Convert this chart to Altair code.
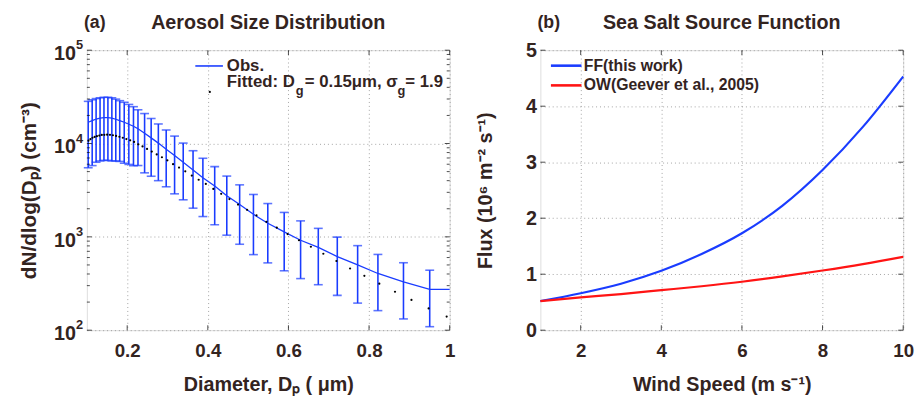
import altair as alt
import pandas as pd

FONT = "Liberation Sans"
TXT = "#33241f"
BLUE = "#1a3cff"
RED = "#ff1414"
GRID = "#8c8c8c"

# ---------------- Panel (a): aerosol size distribution ----------------
obs_d = [0.1034, 0.1132, 0.1229, 0.1327, 0.1424, 0.1522, 0.1620, 0.1717, 0.1815,
         0.1927, 0.2041, 0.2156, 0.2268, 0.2432, 0.2595, 0.2773, 0.2968, 0.3176,
         0.3390, 0.3634, 0.3878, 0.4171, 0.4471, 0.4790, 0.5132, 0.5488, 0.5895,
         0.6302, 0.6741, 0.7212, 0.7717, 0.8220, 0.8854, 0.9505]
obs_mean = [16900, 17600, 18300, 18700, 18950, 18950, 18700, 18200, 17600,
            16900, 16100, 15300, 14400, 12900, 11500, 10100, 8700, 7450,
            6300, 5200, 4300, 3500, 2760, 2220, 1745, 1400, 1130,
            920, 770, 615, 500, 405, 330, 274]
obs_std = [11400, 11800, 12000, 12200, 12350, 12350, 12200, 11700, 11170,
           10750, 10130, 9520, 8590, 8050, 7040, 6100, 5260, 4560,
           3806, 3171, 2650, 2155, 1718, 1387, 1100, 874, 697,
           563, 463, 379, 305, 243, 198, 165]
obs_line_d = obs_d + [1.0]
obs_line_v = obs_mean + [274]

fit_d = [0.1039, 0.1088, 0.1139, 0.1193, 0.1249, 0.1308, 0.1370, 0.1434, 0.1502, 0.1573,
         0.1647, 0.1725, 0.1806, 0.1891, 0.1980, 0.2074, 0.2171, 0.2274, 0.2381, 0.2493,
         0.2610, 0.2733, 0.2862, 0.2997, 0.3138, 0.3286, 0.3441, 0.3603, 0.3773, 0.3951,
         0.4137, 0.4332, 0.4536, 0.4750, 0.4974, 0.5208, 0.5454, 0.5711, 0.5980, 0.6262,
         0.6557, 0.6866, 0.7190, 0.7529, 0.7884, 0.8255, 0.8644, 0.9052, 0.9478, 0.9925]
fit_v = [10720, 11140, 11530, 11760, 11990, 12160, 12350, 12400, 12440, 12380,
         12260, 12050, 11820, 11530, 11170, 10820, 10390, 9800, 9310, 8760,
         8190, 7640, 7130, 6610, 6000, 5520, 5030, 4540, 4090, 3690,
         3260, 2890, 2540, 2220, 1950, 1700, 1450, 1255, 1070, 920,
         783, 659, 551, 458, 382, 315, 258, 211, 171, 140]

a_xticks = [0.2, 0.4, 0.6, 0.8, 1.0]
a_yticks = [100, 1000, 10000, 100000]
a_ybase = ["10", "10", "10", "10"]
a_yexp = ["2", "3", "4", "5"]
a_yminor = [200, 300, 400, 500, 600, 700, 800, 900,
            2000, 3000, 4000, 5000, 6000, 7000, 8000, 9000,
            20000, 30000, 40000, 50000, 60000, 70000, 80000, 90000]

# ---------------- Panel (b): sea salt source function ----------------
wind = [1, 2, 3, 4, 5, 6, 7, 8, 9, 10]
ff_flux = [0.52, 0.66, 0.83, 1.06, 1.36, 1.73, 2.22, 2.86, 3.63, 4.53]
ow_flux = [0.52, 0.585, 0.645, 0.715, 0.785, 0.865, 0.96, 1.065, 1.18, 1.31]
b_xticks = [2, 4, 6, 8, 10]
b_yticks = [0, 1, 2, 3, 4, 5]

W, H = 368, 284


def axis(values, title, label_expr=None, **kw):
    args = dict(values=values, title=title, grid=True, gridDash=[1, 3], gridColor=GRID,
                gridWidth=0.8, ticks=False, domain=False, labelFont=FONT, labelFontSize=19,
                labelFontWeight="bold", labelColor=TXT, labelFlush=False, labelOverlap=False,
                titleFont=FONT, titleFontSize=20, titleFontWeight="bold", titleColor=TXT)
    if label_expr:
        args["labelExpr"] = label_expr
    args.update(kw)
    return alt.Axis(**args)


def inner_ticks(values, field_scale, orient, length):
    """Inward tick marks on both sides of a panel for given tick values."""
    df = pd.DataFrame({"t": values})
    out = []
    if orient == "y":
        for xv in (length / 2, W - length / 2):
            out.append(alt.Chart(df).mark_tick(orient="horizontal", size=length,
                                               thickness=1, color="black").encode(
                x=alt.value(xv), y=alt.Y("t:Q", scale=field_scale)))
    else:
        for yv in (length / 2, H - length / 2):
            out.append(alt.Chart(df).mark_tick(orient="vertical", size=length,
                                               thickness=1, color="black").encode(
                y=alt.value(yv), x=alt.X("t:Q", scale=field_scale)))
    return out


obs_df = pd.DataFrame({"d": obs_d, "m": obs_mean, "s": obs_std})
line_df = pd.DataFrame({"d": obs_line_d, "v": obs_line_v})
fit_df = pd.DataFrame({"d": fit_d, "v": fit_v})
ylab_df = pd.DataFrame({"v": a_yticks, "b": a_ybase, "e": a_yexp})

xs_a = alt.Scale(domain=[0.1, 1.0], nice=False, zero=False)
ys_a = alt.Scale(type="log", domain=[100, 100000], nice=False)

ax_a_x = axis(a_xticks, "Diameter, Dₚ ( μm)",
              "datum.value == 1 ? '1' : format(datum.value, '.1f')",
              labelPadding=12, titleY=61, titleBaseline="alphabetic")
ax_a_y = axis(a_yticks, "dN/dlog(Dₚ) (cm⁻³)", labels=False, titleX=-48,
              titleFontSize=21)

line_a = alt.Chart(line_df).mark_line(color=BLUE, strokeWidth=1.3).encode(
    x=alt.X("d:Q", scale=xs_a, axis=ax_a_x),
    y=alt.Y("v:Q", scale=ys_a, axis=ax_a_y),
)
err = alt.Chart(obs_df).transform_calculate(
    lo="datum.m - datum.s", hi="datum.m + datum.s"
)
rules = err.mark_rule(color=BLUE, strokeWidth=1.6).encode(
    x=alt.X("d:Q", scale=xs_a), y=alt.Y("lo:Q", scale=ys_a), y2="hi:Q")
cap_lo = err.mark_tick(color=BLUE, size=9, thickness=1.6, orient="horizontal").encode(
    x=alt.X("d:Q", scale=xs_a), y=alt.Y("lo:Q", scale=ys_a))
cap_hi = err.mark_tick(color=BLUE, size=9, thickness=1.6, orient="horizontal").encode(
    x=alt.X("d:Q", scale=xs_a), y=alt.Y("hi:Q", scale=ys_a))
dots = alt.Chart(fit_df).mark_circle(color="black", size=5, opacity=1).encode(
    x=alt.X("d:Q", scale=xs_a), y=alt.Y("v:Q", scale=ys_a))

# y tick labels of panel (a): "10" with a raised exponent
ylab_base = alt.Chart(ylab_df).mark_text(
    font=FONT, fontSize=20, fontWeight="bold", color=TXT, align="right",
    baseline="middle", dy=4).encode(
    x=alt.value(-11), y=alt.Y("v:Q", scale=ys_a), text="b:N")
ylab_exp = alt.Chart(ylab_df).mark_text(
    font=FONT, fontSize=13, fontWeight="bold", color=TXT, align="left",
    baseline="middle", dy=-5).encode(
    x=alt.value(-11), y=alt.Y("v:Q", scale=ys_a), text="e:N")

one = pd.DataFrame({"k": [0]})


def txt(s, x, y, size=17, align="left", baseline="middle"):
    return alt.Chart(one).mark_text(text=s, font=FONT, fontSize=size, fontWeight="bold",
                                    color=TXT, align=align, baseline=baseline).encode(
        x=alt.value(x), y=alt.value(y))


def seg(x1, x2, y, color, width):
    return alt.Chart(one).mark_rule(color=color, strokeWidth=width).encode(
        x=alt.value(x1), x2=alt.value(x2), y=alt.value(y))


leg_a = [
    seg(110, 138, 16, BLUE, 1.6),
    txt("Obs.", 142, 16),
    txt("Fitted: D", 142, 32),
    txt("g", 212, 41, size=13),
    txt("= 0.15μm, σ", 221, 32),
    txt("g", 315, 41, size=13),
    txt("= 1.9", 323, 32),
    alt.Chart(one).mark_circle(color="black", size=5, opacity=1).encode(
        x=alt.value(124.7), y=alt.value(42.3)),
    txt("(a)", -3, -28, size=18),
    txt("Aerosol Size Distribution", W / 2, -21, size=20, align="center",
        baseline="alphabetic"),
]

ticks_a = (inner_ticks(a_yticks, ys_a, "y", 5) + inner_ticks(a_yminor, ys_a, "y", 3)
           + inner_ticks(a_xticks, xs_a, "x", 5))

panel_a = alt.layer(line_a, rules, cap_lo, cap_hi, dots, ylab_base, ylab_exp,
                    *ticks_a, *leg_a).properties(width=W, height=H)

# ---------------- Panel (b) ----------------
b_df = pd.DataFrame({
    "u": wind * 2,
    "f": ff_flux + ow_flux,
    "s": ["FF"] * len(wind) + ["OW"] * len(wind),
})
xs_b = alt.Scale(domain=[1, 10], nice=False, zero=False)
ys_b = alt.Scale(domain=[0, 5], nice=False)
ax_b_x = axis(b_xticks, "Wind Speed (m s⁻¹)", "format(datum.value, 'd')",
              labelPadding=12, titleY=61, titleBaseline="alphabetic")
ax_b_y = axis(b_yticks, "Flux (10⁶ m⁻² s⁻¹)", "format(datum.value, 'd')",
              labelPadding=4, titleX=-46, labelFontSize=20)

lines_b = alt.Chart(b_df).mark_line(strokeWidth=2.2, interpolate="monotone").encode(
    x=alt.X("u:Q", scale=xs_b, axis=ax_b_x),
    y=alt.Y("f:Q", scale=ys_b, axis=ax_b_y),
    color=alt.Color("s:N", scale=alt.Scale(domain=["FF", "OW"], range=[BLUE, RED]), legend=None),
)

leg_b = [
    seg(10.7, 41.7, 15.7, BLUE, 2.6),
    txt("FF(this work)", 44, 15.7, size=16),
    seg(10.7, 41.7, 35.7, RED, 2.6),
    txt("OW(Geever et al., 2005)", 44, 35.7, size=16),
    txt("(b)", -3, -28, size=18),
    txt("Sea Salt Source Function", W / 2, -21, size=20, align="center",
        baseline="alphabetic"),
]

ticks_b = inner_ticks(b_yticks, ys_b, "y", 5) + inner_ticks(b_xticks, xs_b, "x", 5)

panel_b = alt.layer(lines_b, *ticks_b, *leg_b).properties(width=W, height=H)

chart = alt.hconcat(panel_a, panel_b, spacing=92, bounds="flush").properties(
    padding={"left": 10, "top": 2, "right": 0, "bottom": 0}
).configure_view(stroke="black", strokeWidth=1.2).configure(background="white")

chart.save("out.html", embed_options={"renderer": "svg", "actions": False})
